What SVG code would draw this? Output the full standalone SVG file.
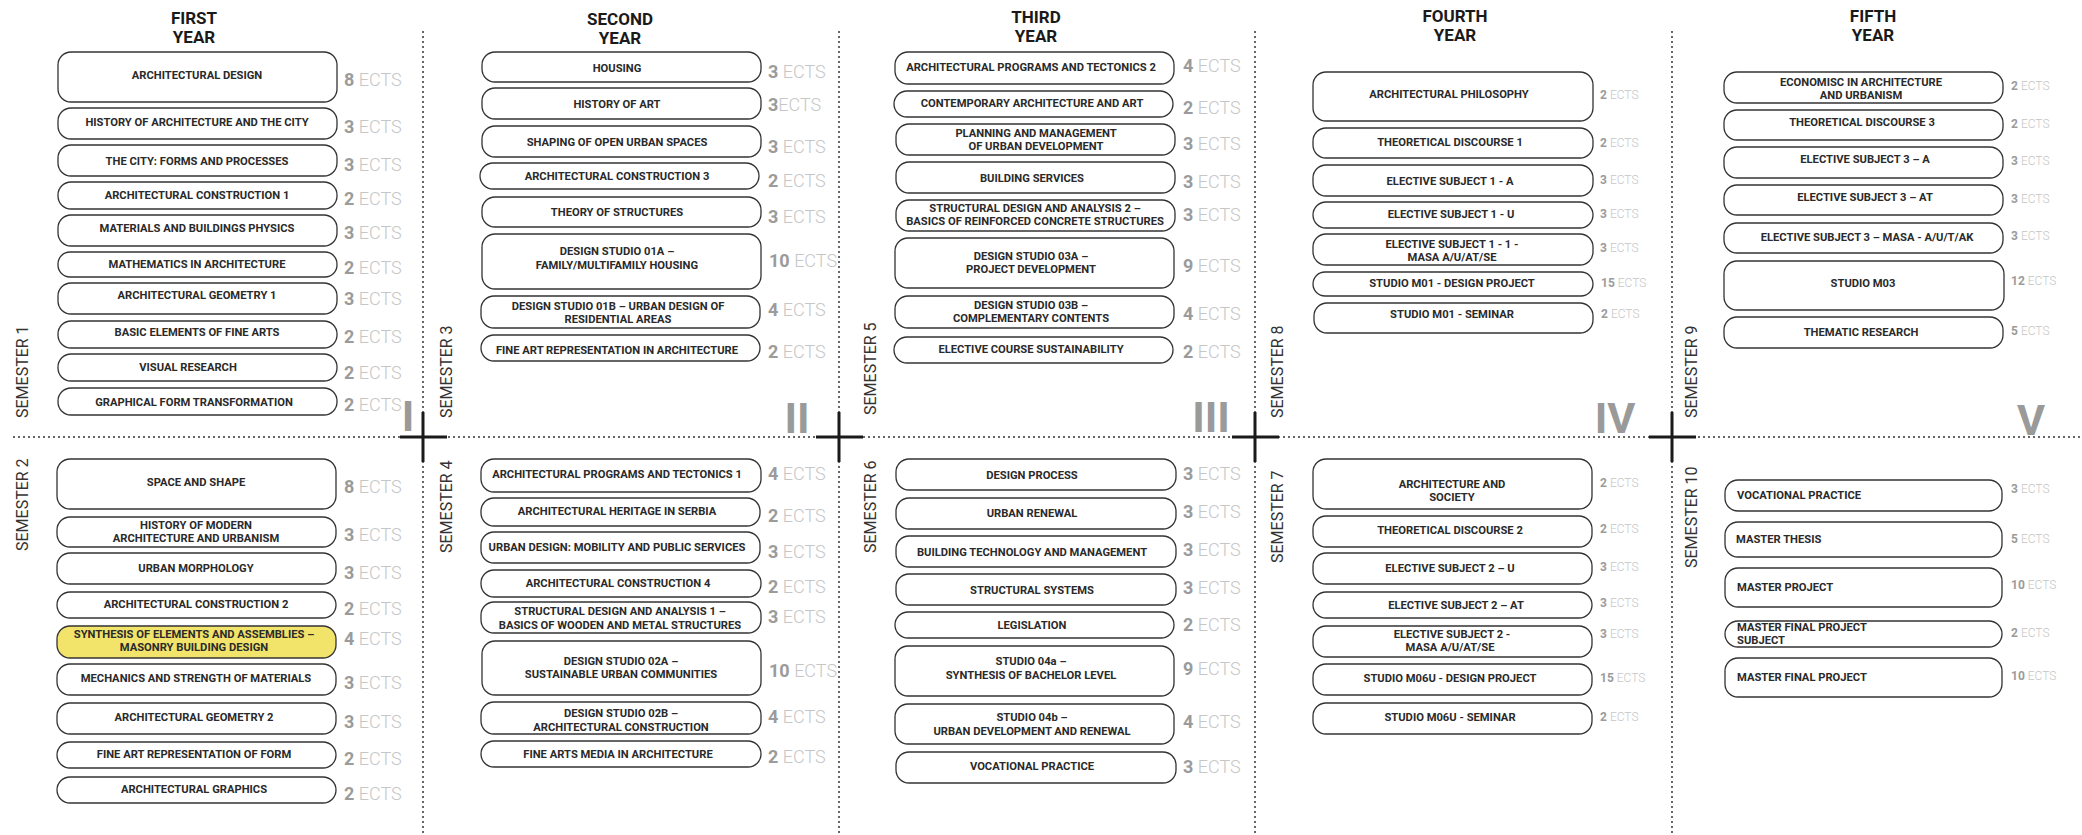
<svg xmlns="http://www.w3.org/2000/svg" width="2082" height="835" viewBox="0 0 2082 835">
<style>
.bg{fill:#fff}
.box{fill:#fff;stroke:#333;stroke-width:1.3}
.hl{fill:#f2e46b}
.t{font-family:Roboto,"Liberation Sans",sans-serif;font-weight:700;font-size:11.2px;fill:#2a2a2a;text-anchor:middle}
.tl{text-anchor:start}
.ects{font-family:Roboto,"Liberation Sans",sans-serif;font-size:18px}
.sm{font-size:12px}
.n{font-weight:700;fill:#9b9b9b}
.e{font-weight:300;fill:#c6c6c6}
.hd{font-family:Roboto,"Liberation Sans",sans-serif;font-weight:700;font-size:17px;fill:#1a1a1a;text-anchor:middle}
.sem{font-family:Roboto,"Liberation Sans",sans-serif;font-size:16px;fill:#333}
.rn{font-family:Roboto,"Liberation Sans",sans-serif;font-weight:700;font-size:43px;fill:#9a9a9a;text-anchor:middle}
.dot{stroke:#333;stroke-width:2;stroke-linecap:round;stroke-dasharray:0 5;fill:none}
.cross{stroke:#1a1a1a;stroke-width:3;fill:none}
</style>
<rect class="bg" x="0" y="0" width="2082" height="835"/>

<g id="connectors">
<line class="dot" x1="14" y1="437" x2="2082" y2="437"/>
<line class="dot" x1="423" y1="32" x2="423" y2="835"/>
<line class="dot" x1="839" y1="32" x2="839" y2="835"/>
<line class="dot" x1="1255" y1="32" x2="1255" y2="835"/>
<line class="dot" x1="1672" y1="32" x2="1672" y2="835"/>
<path class="cross" d="M400 437H447M423 412V462"/>
<path class="cross" d="M816 437H863M839 412V462"/>
<path class="cross" d="M1232 437H1279M1255 412V462"/>
<path class="cross" d="M1649 437H1696M1672 412V462"/>
</g>

<g id="labels">
<text class="hd" x="194" y="24">FIRST</text><text class="hd" x="194" y="43">YEAR</text>
<text class="hd" x="620" y="25">SECOND</text><text class="hd" x="620" y="44">YEAR</text>
<text class="hd" x="1036" y="23">THIRD</text><text class="hd" x="1036" y="42">YEAR</text>
<text class="hd" x="1455" y="22">FOURTH</text><text class="hd" x="1455" y="41">YEAR</text>
<text class="hd" x="1873" y="22">FIFTH</text><text class="hd" x="1873" y="41">YEAR</text>
<text class="sem" transform="translate(28,418) rotate(-90)">SEMESTER 1</text>
<text class="sem" transform="translate(28,551) rotate(-90)">SEMESTER 2</text>
<text class="sem" transform="translate(452,418) rotate(-90)">SEMESTER 3</text>
<text class="sem" transform="translate(452,553) rotate(-90)">SEMESTER 4</text>
<text class="sem" transform="translate(876,415) rotate(-90)">SEMESTER 5</text>
<text class="sem" transform="translate(876,553) rotate(-90)">SEMESTER 6</text>
<text class="sem" transform="translate(1283,418) rotate(-90)">SEMESTER 8</text>
<text class="sem" transform="translate(1283,563) rotate(-90)">SEMESTER 7</text>
<text class="sem" transform="translate(1697,418) rotate(-90)">SEMESTER 9</text>
<text class="sem" transform="translate(1697,568) rotate(-90)">SEMESTER 10</text>
<text class="rn" x="408" y="431">I</text>
<text class="rn" x="797" y="433">II</text>
<text class="rn" x="1211" y="432">III</text>
<text class="rn" x="1615" y="433">IV</text>
<text class="rn" x="2031" y="435">V</text>
</g>

<!-- YEAR 1 SEMESTER 1 -->
<g id="s1-1"><rect class="box" x="58" y="52" width="279" height="50" rx="13"/><text class="t" x="197" y="79">ARCHITECTURAL DESIGN</text><text class="ects" x="344" y="86"><tspan class="n">8</tspan> <tspan class="e">ECTS</tspan></text></g>
<g id="s1-2"><rect class="box" x="58" y="108" width="279" height="31" rx="13"/><text class="t" x="197" y="126">HISTORY OF ARCHITECTURE AND THE CITY</text><text class="ects" x="344" y="133"><tspan class="n">3</tspan> <tspan class="e">ECTS</tspan></text></g>
<g id="s1-3"><rect class="box" x="58" y="145" width="279" height="31" rx="13"/><text class="t" x="197" y="165">THE CITY: FORMS AND PROCESSES</text><text class="ects" x="344" y="171"><tspan class="n">3</tspan> <tspan class="e">ECTS</tspan></text></g>
<g id="s1-4"><rect class="box" x="58" y="182" width="279" height="27" rx="13"/><text class="t" x="197" y="199">ARCHITECTURAL CONSTRUCTION 1</text><text class="ects" x="344" y="205"><tspan class="n">2</tspan> <tspan class="e">ECTS</tspan></text></g>
<g id="s1-5"><rect class="box" x="58" y="215" width="279" height="31" rx="13"/><text class="t" x="197" y="232">MATERIALS AND BUILDINGS PHYSICS</text><text class="ects" x="344" y="239"><tspan class="n">3</tspan> <tspan class="e">ECTS</tspan></text></g>
<g id="s1-6"><rect class="box" x="58" y="252" width="279" height="25" rx="12"/><text class="t" x="197" y="268">MATHEMATICS IN ARCHITECTURE</text><text class="ects" x="344" y="274"><tspan class="n">2</tspan> <tspan class="e">ECTS</tspan></text></g>
<g id="s1-7"><rect class="box" x="58" y="283" width="279" height="31" rx="13"/><text class="t" x="197" y="299">ARCHITECTURAL GEOMETRY 1</text><text class="ects" x="344" y="305"><tspan class="n">3</tspan> <tspan class="e">ECTS</tspan></text></g>
<g id="s1-8"><rect class="box" x="58" y="321" width="279" height="27" rx="13"/><text class="t" x="197" y="336">BASIC ELEMENTS OF FINE ARTS</text><text class="ects" x="344" y="343"><tspan class="n">2</tspan> <tspan class="e">ECTS</tspan></text></g>
<g id="s1-9"><rect class="box" x="58" y="354" width="279" height="27" rx="13"/><text class="t" x="188" y="371">VISUAL RESEARCH</text><text class="ects" x="344" y="379"><tspan class="n">2</tspan> <tspan class="e">ECTS</tspan></text></g>
<g id="s1-10"><rect class="box" x="58" y="388" width="279" height="27" rx="13"/><text class="t" x="194" y="406">GRAPHICAL FORM TRANSFORMATION</text><text class="ects" x="344" y="411"><tspan class="n">2</tspan> <tspan class="e">ECTS</tspan></text></g>

<!-- SEMESTER 2 -->
<g id="s2-1"><rect class="box" x="57" y="459" width="279" height="50" rx="13"/><text class="t" x="196" y="486">SPACE AND SHAPE</text><text class="ects" x="344" y="493"><tspan class="n">8</tspan> <tspan class="e">ECTS</tspan></text></g>
<g id="s2-2"><rect class="box" x="57" y="517" width="279" height="30" rx="13"/><text class="t" x="196" y="529">HISTORY OF MODERN</text><text class="t" x="196" y="542">ARCHITECTURE AND URBANISM</text><text class="ects" x="344" y="541"><tspan class="n">3</tspan> <tspan class="e">ECTS</tspan></text></g>
<g id="s2-3"><rect class="box" x="57" y="553" width="279" height="31" rx="13"/><text class="t" x="196" y="572">URBAN MORPHOLOGY</text><text class="ects" x="344" y="579"><tspan class="n">3</tspan> <tspan class="e">ECTS</tspan></text></g>
<g id="s2-4"><rect class="box" x="57" y="592" width="279" height="26" rx="13"/><text class="t" x="196" y="608">ARCHITECTURAL CONSTRUCTION 2</text><text class="ects" x="344" y="615"><tspan class="n">2</tspan> <tspan class="e">ECTS</tspan></text></g>
<g id="s2-5"><rect class="box hl" x="57" y="626" width="279" height="32" rx="13"/><text class="t" x="194" y="638">SYNTHESIS OF ELEMENTS AND ASSEMBLIES –</text><text class="t" x="194" y="651">MASONRY BUILDING DESIGN</text><text class="ects" x="344" y="645"><tspan class="n">4</tspan> <tspan class="e">ECTS</tspan></text></g>
<g id="s2-6"><rect class="box" x="57" y="664" width="279" height="31" rx="13"/><text class="t" x="196" y="682">MECHANICS AND STRENGTH OF MATERIALS</text><text class="ects" x="344" y="689"><tspan class="n">3</tspan> <tspan class="e">ECTS</tspan></text></g>
<g id="s2-7"><rect class="box" x="57" y="703" width="279" height="31" rx="13"/><text class="t" x="194" y="721">ARCHITECTURAL GEOMETRY 2</text><text class="ects" x="344" y="728"><tspan class="n">3</tspan> <tspan class="e">ECTS</tspan></text></g>
<g id="s2-8"><rect class="box" x="57" y="742" width="279" height="26" rx="13"/><text class="t" x="194" y="758">FINE ART REPRESENTATION OF FORM</text><text class="ects" x="344" y="765"><tspan class="n">2</tspan> <tspan class="e">ECTS</tspan></text></g>
<g id="s2-9"><rect class="box" x="57" y="777" width="279" height="26" rx="13"/><text class="t" x="194" y="793">ARCHITECTURAL GRAPHICS</text><text class="ects" x="344" y="800"><tspan class="n">2</tspan> <tspan class="e">ECTS</tspan></text></g>

<!-- SEMESTER 3 -->
<g id="s3-1"><rect class="box" x="482" y="52" width="279" height="30" rx="13"/><text class="t" x="617" y="72">HOUSING</text><text class="ects" x="768" y="78"><tspan class="n">3</tspan> <tspan class="e">ECTS</tspan></text></g>
<g id="s3-2"><rect class="box" x="482" y="88" width="279" height="31" rx="13"/><text class="t" x="617" y="108">HISTORY OF ART</text><text class="ects" x="768" y="111"><tspan class="n">3</tspan><tspan class="e">ECTS</tspan></text></g>
<g id="s3-3"><rect class="box" x="482" y="126" width="279" height="31" rx="13"/><text class="t" x="617" y="146">SHAPING OF OPEN URBAN SPACES</text><text class="ects" x="768" y="153"><tspan class="n">3</tspan> <tspan class="e">ECTS</tspan></text></g>
<g id="s3-4"><rect class="box" x="480" y="163" width="279" height="26" rx="13"/><text class="t" x="617" y="180">ARCHITECTURAL CONSTRUCTION 3</text><text class="ects" x="768" y="187"><tspan class="n">2</tspan> <tspan class="e">ECTS</tspan></text></g>
<g id="s3-5"><rect class="box" x="482" y="197" width="279" height="30" rx="13"/><text class="t" x="617" y="216">THEORY OF STRUCTURES</text><text class="ects" x="768" y="223"><tspan class="n">3</tspan> <tspan class="e">ECTS</tspan></text></g>
<g id="s3-6"><rect class="box" x="482" y="234" width="279" height="55" rx="13"/><text class="t" x="617" y="255">DESIGN STUDIO 01A –</text><text class="t" x="617" y="269">FAMILY/MULTIFAMILY HOUSING</text><text class="ects" x="769" y="267"><tspan class="n">10</tspan> <tspan class="e">ECTS</tspan></text></g>
<g id="s3-7"><rect class="box" x="481" y="296" width="279" height="32" rx="13"/><text class="t" x="618" y="310">DESIGN STUDIO 01B – URBAN DESIGN OF</text><text class="t" x="618" y="323">RESIDENTIAL AREAS</text><text class="ects" x="768" y="316"><tspan class="n">4</tspan> <tspan class="e">ECTS</tspan></text></g>
<g id="s3-8"><rect class="box" x="481" y="335" width="279" height="26" rx="13"/><text class="t" x="617" y="354">FINE ART REPRESENTATION IN ARCHITECTURE</text><text class="ects" x="768" y="358"><tspan class="n">2</tspan> <tspan class="e">ECTS</tspan></text></g>

<!-- SEMESTER 4 -->
<g id="s4-1"><rect class="box" x="481" y="459" width="280" height="33" rx="13"/><text class="t" x="617" y="478">ARCHITECTURAL PROGRAMS AND TECTONICS 1</text><text class="ects" x="768" y="480"><tspan class="n">4</tspan> <tspan class="e">ECTS</tspan></text></g>
<g id="s4-2"><rect class="box" x="481" y="498" width="279" height="28" rx="13"/><text class="t" x="617" y="515">ARCHITECTURAL HERITAGE IN SERBIA</text><text class="ects" x="768" y="522"><tspan class="n">2</tspan> <tspan class="e">ECTS</tspan></text></g>
<g id="s4-3"><rect class="box" x="481" y="532" width="279" height="31" rx="13"/><text class="t" x="617" y="551">URBAN DESIGN: MOBILITY AND PUBLIC SERVICES</text><text class="ects" x="768" y="558"><tspan class="n">3</tspan> <tspan class="e">ECTS</tspan></text></g>
<g id="s4-4"><rect class="box" x="481" y="570" width="280" height="27" rx="13"/><text class="t" x="618" y="587">ARCHITECTURAL CONSTRUCTION 4</text><text class="ects" x="768" y="593"><tspan class="n">2</tspan> <tspan class="e">ECTS</tspan></text></g>
<g id="s4-5"><rect class="box" x="481" y="602" width="280" height="31" rx="13"/><text class="t" x="620" y="615">STRUCTURAL DESIGN AND ANALYSIS 1 –</text><text class="t" x="620" y="629">BASICS OF WOODEN AND METAL STRUCTURES</text><text class="ects" x="768" y="623"><tspan class="n">3</tspan> <tspan class="e">ECTS</tspan></text></g>
<g id="s4-6"><rect class="box" x="482" y="641" width="279" height="54" rx="13"/><text class="t" x="621" y="665">DESIGN STUDIO 02A –</text><text class="t" x="621" y="678">SUSTAINABLE URBAN COMMUNITIES</text><text class="ects" x="769" y="677"><tspan class="n">10</tspan> <tspan class="e">ECTS</tspan></text></g>
<g id="s4-7"><rect class="box" x="481" y="702" width="280" height="32" rx="13"/><text class="t" x="621" y="717">DESIGN STUDIO 02B –</text><text class="t" x="621" y="731">ARCHITECTURAL CONSTRUCTION</text><text class="ects" x="768" y="723"><tspan class="n">4</tspan> <tspan class="e">ECTS</tspan></text></g>
<g id="s4-8"><rect class="box" x="481" y="741" width="280" height="26" rx="13"/><text class="t" x="618" y="758">FINE ARTS MEDIA IN ARCHITECTURE</text><text class="ects" x="768" y="763"><tspan class="n">2</tspan> <tspan class="e">ECTS</tspan></text></g>

<!-- SEMESTER 5 -->
<g id="s5-1"><rect class="box" x="895" y="52" width="279" height="32" rx="13"/><text class="t" x="1031" y="71">ARCHITECTURAL PROGRAMS AND TECTONICS 2</text><text class="ects" x="1183" y="72"><tspan class="n">4</tspan> <tspan class="e">ECTS</tspan></text></g>
<g id="s5-2"><rect class="box" x="894" y="91" width="279" height="26" rx="13"/><text class="t" x="1032" y="107">CONTEMPORARY ARCHITECTURE AND ART</text><text class="ects" x="1183" y="114"><tspan class="n">2</tspan> <tspan class="e">ECTS</tspan></text></g>
<g id="s5-3"><rect class="box" x="896" y="124" width="279" height="31" rx="13"/><text class="t" x="1036" y="137">PLANNING AND MANAGEMENT</text><text class="t" x="1036" y="150">OF URBAN DEVELOPMENT</text><text class="ects" x="1183" y="150"><tspan class="n">3</tspan> <tspan class="e">ECTS</tspan></text></g>
<g id="s5-4"><rect class="box" x="896" y="162" width="279" height="31" rx="13"/><text class="t" x="1032" y="182">BUILDING SERVICES</text><text class="ects" x="1183" y="188"><tspan class="n">3</tspan> <tspan class="e">ECTS</tspan></text></g>
<g id="s5-5"><rect class="box" x="896" y="200" width="279" height="31" rx="13"/><text class="t" x="1035" y="212">STRUCTURAL DESIGN AND ANALYSIS 2 –</text><text class="t" x="1035" y="225">BASICS OF REINFORCED CONCRETE STRUCTURES</text><text class="ects" x="1183" y="221"><tspan class="n">3</tspan> <tspan class="e">ECTS</tspan></text></g>
<g id="s5-6"><rect class="box" x="895" y="238" width="279" height="50" rx="13"/><text class="t" x="1031" y="260">DESIGN STUDIO 03A –</text><text class="t" x="1031" y="273">PROJECT DEVELOPMENT</text><text class="ects" x="1183" y="272"><tspan class="n">9</tspan> <tspan class="e">ECTS</tspan></text></g>
<g id="s5-7"><rect class="box" x="895" y="296" width="279" height="32" rx="13"/><text class="t" x="1031" y="309">DESIGN STUDIO 03B –</text><text class="t" x="1031" y="322">COMPLEMENTARY CONTENTS</text><text class="ects" x="1183" y="320"><tspan class="n">4</tspan> <tspan class="e">ECTS</tspan></text></g>
<g id="s5-8"><rect class="box" x="894" y="337" width="279" height="26" rx="13"/><text class="t" x="1031" y="353">ELECTIVE COURSE SUSTAINABILITY</text><text class="ects" x="1183" y="358"><tspan class="n">2</tspan> <tspan class="e">ECTS</tspan></text></g>

<!-- SEMESTER 6 -->
<g id="s6-1"><rect class="box" x="896" y="459" width="280" height="31" rx="13"/><text class="t" x="1032" y="479">DESIGN PROCESS</text><text class="ects" x="1183" y="480"><tspan class="n">3</tspan> <tspan class="e">ECTS</tspan></text></g>
<g id="s6-2"><rect class="box" x="896" y="498" width="280" height="31" rx="13"/><text class="t" x="1032" y="517">URBAN RENEWAL</text><text class="ects" x="1183" y="518"><tspan class="n">3</tspan> <tspan class="e">ECTS</tspan></text></g>
<g id="s6-3"><rect class="box" x="896" y="536" width="280" height="31" rx="13"/><text class="t" x="1032" y="556">BUILDING TECHNOLOGY AND MANAGEMENT</text><text class="ects" x="1183" y="556"><tspan class="n">3</tspan> <tspan class="e">ECTS</tspan></text></g>
<g id="s6-4"><rect class="box" x="896" y="574" width="280" height="31" rx="13"/><text class="t" x="1032" y="594">STRUCTURAL SYSTEMS</text><text class="ects" x="1183" y="594"><tspan class="n">3</tspan> <tspan class="e">ECTS</tspan></text></g>
<g id="s6-5"><rect class="box" x="895" y="612" width="279" height="26" rx="13"/><text class="t" x="1032" y="629">LEGISLATION</text><text class="ects" x="1183" y="631"><tspan class="n">2</tspan> <tspan class="e">ECTS</tspan></text></g>
<g id="s6-6"><rect class="box" x="895" y="646" width="279" height="50" rx="13"/><text class="t" x="1031" y="665">STUDIO 04a –</text><text class="t" x="1031" y="679">SYNTHESIS OF BACHELOR LEVEL</text><text class="ects" x="1183" y="675"><tspan class="n">9</tspan> <tspan class="e">ECTS</tspan></text></g>
<g id="s6-7"><rect class="box" x="895" y="704" width="279" height="40" rx="13"/><text class="t" x="1032" y="721">STUDIO 04b –</text><text class="t" x="1032" y="735">URBAN DEVELOPMENT AND RENEWAL</text><text class="ects" x="1183" y="728"><tspan class="n">4</tspan> <tspan class="e">ECTS</tspan></text></g>
<g id="s6-8"><rect class="box" x="896" y="752" width="280" height="31" rx="13"/><text class="t" x="1032" y="770">VOCATIONAL PRACTICE</text><text class="ects" x="1183" y="773"><tspan class="n">3</tspan> <tspan class="e">ECTS</tspan></text></g>

<!-- SEMESTER 8 (top of fourth year) -->
<g id="s8-1"><rect class="box" x="1313" y="72" width="280" height="49" rx="13"/><text class="t" x="1449" y="98">ARCHITECTURAL PHILOSOPHY</text><text class="ects sm" x="1600" y="99"><tspan class="n">2</tspan> <tspan class="e">ECTS</tspan></text></g>
<g id="s8-2"><rect class="box" x="1313" y="128" width="280" height="30" rx="13"/><text class="t" x="1450" y="146">THEORETICAL DISCOURSE 1</text><text class="ects sm" x="1600" y="147"><tspan class="n">2</tspan> <tspan class="e">ECTS</tspan></text></g>
<g id="s8-3"><rect class="box" x="1313" y="165" width="280" height="31" rx="13"/><text class="t" x="1450" y="185">ELECTIVE SUBJECT 1 - A</text><text class="ects sm" x="1600" y="184"><tspan class="n">3</tspan> <tspan class="e">ECTS</tspan></text></g>
<g id="s8-4"><rect class="box" x="1313" y="202" width="280" height="26" rx="13"/><text class="t" x="1451" y="218">ELECTIVE SUBJECT 1 - U</text><text class="ects sm" x="1600" y="218"><tspan class="n">3</tspan> <tspan class="e">ECTS</tspan></text></g>
<g id="s8-5"><rect class="box" x="1313" y="234" width="280" height="31" rx="13"/><text class="t" x="1452" y="248">ELECTIVE SUBJECT 1 - 1 -</text><text class="t" x="1452" y="261">MASA A/U/AT/SE</text><text class="ects sm" x="1600" y="252"><tspan class="n">3</tspan> <tspan class="e">ECTS</tspan></text></g>
<g id="s8-6"><rect class="box" x="1313" y="272" width="280" height="24" rx="12"/><text class="t" x="1452" y="287">STUDIO M01 - DESIGN PROJECT</text><text class="ects sm" x="1601" y="287"><tspan class="n">15</tspan> <tspan class="e">ECTS</tspan></text></g>
<g id="s8-7"><rect class="box" x="1314" y="303" width="279" height="30" rx="13"/><text class="t" x="1452" y="318">STUDIO M01 - SEMINAR</text><text class="ects sm" x="1601" y="318"><tspan class="n">2</tspan> <tspan class="e">ECTS</tspan></text></g>

<!-- SEMESTER 7 -->
<g id="s7-1"><rect class="box" x="1313" y="459" width="279" height="50" rx="13"/><text class="t" x="1452" y="488">ARCHITECTURE AND</text><text class="t" x="1452" y="501">SOCIETY</text><text class="ects sm" x="1600" y="487"><tspan class="n">2</tspan> <tspan class="e">ECTS</tspan></text></g>
<g id="s7-2"><rect class="box" x="1313" y="516" width="279" height="31" rx="13"/><text class="t" x="1450" y="534">THEORETICAL DISCOURSE 2</text><text class="ects sm" x="1600" y="533"><tspan class="n">2</tspan> <tspan class="e">ECTS</tspan></text></g>
<g id="s7-3"><rect class="box" x="1313" y="553" width="279" height="31" rx="13"/><text class="t" x="1450" y="572">ELECTIVE SUBJECT 2 – U</text><text class="ects sm" x="1600" y="571"><tspan class="n">3</tspan> <tspan class="e">ECTS</tspan></text></g>
<g id="s7-4"><rect class="box" x="1313" y="592" width="279" height="26" rx="13"/><text class="t" x="1456" y="609">ELECTIVE SUBJECT 2 – AT</text><text class="ects sm" x="1600" y="607"><tspan class="n">3</tspan> <tspan class="e">ECTS</tspan></text></g>
<g id="s7-5"><rect class="box" x="1313" y="626" width="279" height="31" rx="13"/><text class="t" x="1452" y="638">ELECTIVE SUBJECT 2 -</text><text class="t" x="1450" y="651">MASA A/U/AT/SE</text><text class="ects sm" x="1600" y="638"><tspan class="n">3</tspan> <tspan class="e">ECTS</tspan></text></g>
<g id="s7-6"><rect class="box" x="1313" y="664" width="279" height="31" rx="13"/><text class="t" x="1450" y="682">STUDIO M06U - DESIGN PROJECT</text><text class="ects sm" x="1600" y="682"><tspan class="n">15</tspan> <tspan class="e">ECTS</tspan></text></g>
<g id="s7-7"><rect class="box" x="1313" y="703" width="279" height="31" rx="13"/><text class="t" x="1450" y="721">STUDIO M06U - SEMINAR</text><text class="ects sm" x="1600" y="721"><tspan class="n">2</tspan> <tspan class="e">ECTS</tspan></text></g>

<!-- SEMESTER 9 -->
<g id="s9-1"><rect class="box" x="1724" y="72" width="279" height="31" rx="13"/><text class="t" x="1861" y="86">ECONOMISC IN ARCHITECTURE</text><text class="t" x="1861" y="99">AND URBANISM</text><text class="ects sm" x="2011" y="90"><tspan class="n">2</tspan> <tspan class="e">ECTS</tspan></text></g>
<g id="s9-2"><rect class="box" x="1724" y="110" width="279" height="30" rx="13"/><text class="t" x="1862" y="126">THEORETICAL DISCOURSE 3</text><text class="ects sm" x="2011" y="128"><tspan class="n">2</tspan> <tspan class="e">ECTS</tspan></text></g>
<g id="s9-3"><rect class="box" x="1724" y="147" width="279" height="31" rx="13"/><text class="t" x="1865" y="163">ELECTIVE SUBJECT 3 – A</text><text class="ects sm" x="2011" y="165"><tspan class="n">3</tspan> <tspan class="e">ECTS</tspan></text></g>
<g id="s9-4"><rect class="box" x="1724" y="185" width="279" height="30" rx="13"/><text class="t" x="1865" y="201">ELECTIVE SUBJECT 3 – AT</text><text class="ects sm" x="2011" y="203"><tspan class="n">3</tspan> <tspan class="e">ECTS</tspan></text></g>
<g id="s9-5"><rect class="box" x="1724" y="223" width="279" height="30" rx="13"/><text class="t" x="1867" y="241">ELECTIVE SUBJECT 3 – MASA - A/U/T/AK</text><text class="ects sm" x="2011" y="240"><tspan class="n">3</tspan> <tspan class="e">ECTS</tspan></text></g>
<g id="s9-6"><rect class="box" x="1724" y="261" width="280" height="49" rx="13"/><text class="t" x="1863" y="287">STUDIO M03</text><text class="ects sm" x="2011" y="285"><tspan class="n">12</tspan> <tspan class="e">ECTS</tspan></text></g>
<g id="s9-7"><rect class="box" x="1724" y="317" width="279" height="31" rx="13"/><text class="t" x="1861" y="336">THEMATIC RESEARCH</text><text class="ects sm" x="2011" y="335"><tspan class="n">5</tspan> <tspan class="e">ECTS</tspan></text></g>

<!-- SEMESTER 10 -->
<g id="s10-1"><rect class="box" x="1725" y="480" width="277" height="31" rx="13"/><text class="t tl" x="1737" y="499">VOCATIONAL PRACTICE</text><text class="ects sm" x="2011" y="493"><tspan class="n">3</tspan> <tspan class="e">ECTS</tspan></text></g>
<g id="s10-2"><rect class="box" x="1725" y="522" width="277" height="35" rx="13"/><text class="t tl" x="1736" y="543">MASTER THESIS</text><text class="ects sm" x="2011" y="543"><tspan class="n">5</tspan> <tspan class="e">ECTS</tspan></text></g>
<g id="s10-3"><rect class="box" x="1725" y="568" width="277" height="39" rx="13"/><text class="t tl" x="1737" y="591">MASTER PROJECT</text><text class="ects sm" x="2011" y="589"><tspan class="n">10</tspan> <tspan class="e">ECTS</tspan></text></g>
<g id="s10-4"><rect class="box" x="1725" y="621" width="277" height="26" rx="13"/><text class="t tl" x="1737" y="631">MASTER FINAL PROJECT</text><text class="t tl" x="1737" y="644">SUBJECT</text><text class="ects sm" x="2011" y="637"><tspan class="n">2</tspan> <tspan class="e">ECTS</tspan></text></g>
<g id="s10-5"><rect class="box" x="1725" y="658" width="277" height="39" rx="13"/><text class="t tl" x="1737" y="681">MASTER FINAL PROJECT</text><text class="ects sm" x="2011" y="680"><tspan class="n">10</tspan> <tspan class="e">ECTS</tspan></text></g>
</svg>
